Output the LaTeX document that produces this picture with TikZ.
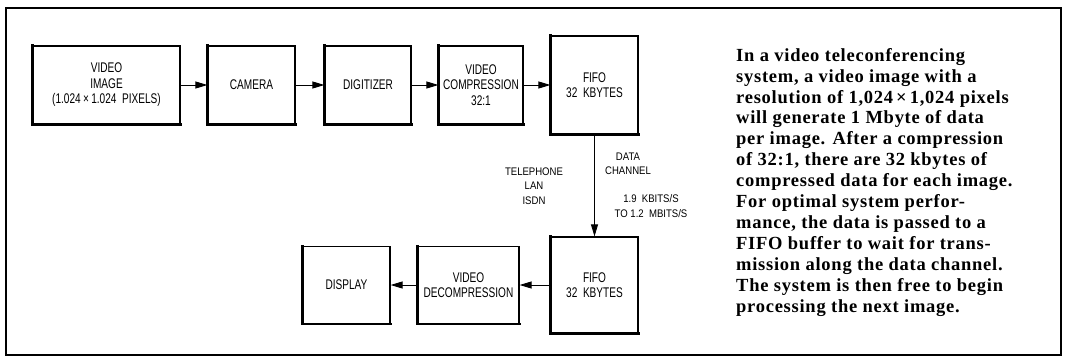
\documentclass[tikz,border=0pt]{standalone}
\usepackage{fontspec}
\setmainfont{Liberation Serif}
\newfontfamily\boxfont[FakeStretch=0.72]{Liberation Sans}
\newfontfamily\labfont[FakeStretch=0.87]{Liberation Sans}
\newfontfamily\notefont[LetterSpace=4]{Liberation Serif}
\usetikzlibrary{arrows.meta}

\tikzset{
  blk/.style={draw, line width=1.2pt, inner sep=0pt, align=center,
    font=\boxfont\fontsize{14}{15.5}\selectfont},
  heavy/.style={line width=2.6pt, line cap=rect},
  flow/.style={line width=0.9pt, -{Triangle[length=12pt,width=7pt]}},
  lab/.style={align=center, font=\labfont\fontsize{11}{14.5}\selectfont}
}

\begin{document}
\begin{tikzpicture}[x=1pt,y=-1pt]
    \useasboundingbox (0,0) rectangle (1066,362);
    \draw[line width=1.7pt] (6,8) rectangle (1061,355);

    % top row
    \node[blk, minimum width=147pt, minimum height=78pt] (img) at (106.5,85)
        {VIDEO\\IMAGE\\(1.024\,\texttimes\,1.024 \ PIXELS)};
    \node[blk, minimum width=87pt, minimum height=78pt] (cam) at (251.5,85) {CAMERA};
    \node[blk, minimum width=86pt, minimum height=78pt] (dig) at (368,85) {DIGITIZER};
    \node[blk, minimum width=84pt, minimum height=78pt] (cmp) at (481,85)
        {VIDEO\\COMPRESSION\\32:1};
    \node[blk, minimum width=87pt, minimum height=98pt] (fifoa) at (594.5,85)
        {FIFO\\32 \ KBYTES};

    % bottom row
    \node[blk, minimum width=87pt, minimum height=96pt] (fifob) at (594.5,285)
        {FIFO\\32 \ KBYTES};
    \node[blk, minimum width=101pt, minimum height=77pt] (dcmp) at (468.5,285)
        {VIDEO\\DECOMPRESSION};
    \node[blk, minimum width=87pt, minimum height=77pt] (disp) at (346.5,285) {DISPLAY};

    % heavy left and bottom edges
    \foreach \n in {img,cam,dig,cmp,fifoa,fifob,dcmp,disp}
        \draw[heavy] (\n.north west) -- (\n.south west) -- (\n.south east);

    \draw[flow] (img) -- (cam);
    \draw[flow] (cam) -- (dig);
    \draw[flow] (dig) -- (cmp);
    \draw[flow] (cmp) -- (fifoa);
    \draw[flow] (fifoa) -- (fifob);
    \draw[flow] (fifob) -- (dcmp);
    \draw[flow] (dcmp) -- (disp);

    % channel labels
    \node[lab] (net) at (534,186) {TELEPHONE\\LAN\\ISDN};
    \node[lab] (chan) at (628,164) {DATA\\CHANNEL};
    \node[lab] (rate) at (651,206) {1.9 \ KBITS/S\\TO 1.2 \ MBITS/S};

    % caption text
    \node[anchor=north west, align=left, inner sep=0pt,
        font=\notefont\bfseries\fontsize{18.5}{20.9}\selectfont] (note) at (736,48)
        {In a video teleconferencing\\
         system, a video image with a\\
         resolution of 1,024\,\texttimes\,1,024 pixels\\
         will generate 1 Mbyte of data\\
         per image. After a compression\\
         of 32:1, there are 32 kbytes of\\
         compressed data for each image.\\
         For optimal system perfor-\\
         mance, the data is passed to a\\
         FIFO buffer to wait for trans-\\
         mission along the data channel.\\
         The system is then free to begin\\
         processing the next image.};
\end{tikzpicture}
\end{document}
